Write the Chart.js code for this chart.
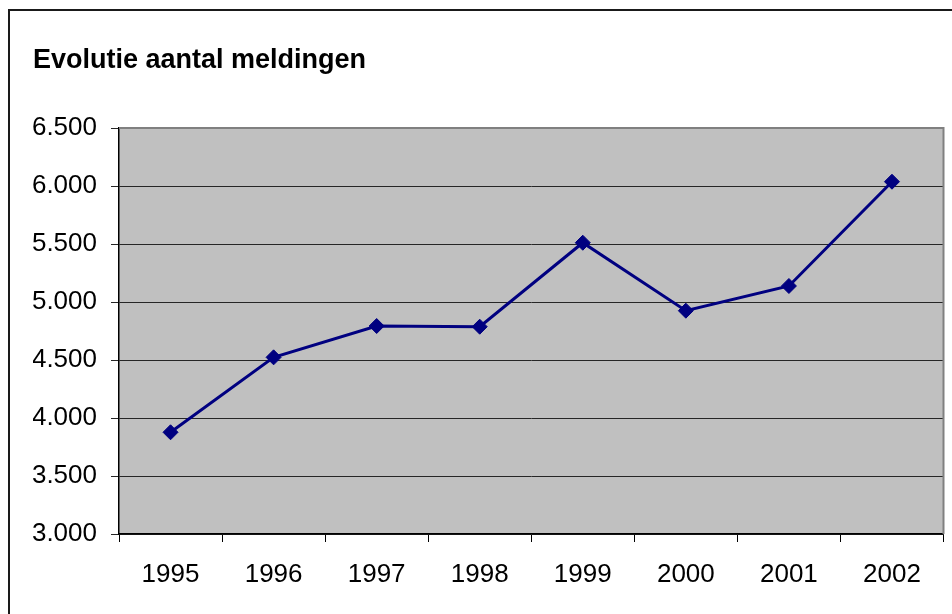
<!DOCTYPE html>
<html>
<head>
<meta charset="utf-8">
<script src="https://cdn.jsdelivr.net/npm/chart.js@4.4.1/dist/chart.umd.min.js"></script>
<style>
  body { margin: 0; background: #fff; }
  #wrap { width: 952px; height: 614px; }
</style>
</head>
<body>
<div id="wrap"><canvas id="myChart" width="952" height="614"></canvas></div>
<script>
'use strict';

const years = ['1995', '1996', '1997', '1998', '1999', '2000', '2001', '2002'];
const meldingen = [3877, 4523, 4793, 4787, 5511, 4925, 5138, 6037];
const yMin = 3000;
const yMax = 6500;
const yStep = 500;

// 6500 -> "6.500"
function dotThousands(v) {
  return String(v).replace(/\B(?=(\d{3})+(?!\d))/g, '.');
}

// grey plot area, its grey top/right edge, and the frame round the chart
const frame = {
  id: 'frame',
  beforeDatasetsDraw(chart) {
    let a = chart.chartArea;
    let ctx = chart.ctx;
    ctx.save();
    ctx.strokeStyle = '#808080';
    ctx.lineWidth = 2;
    ctx.beginPath();
    ctx.moveTo(a.left, a.top);
    ctx.lineTo(a.right, a.top);
    ctx.lineTo(a.right, a.bottom);
    ctx.stroke();
    ctx.restore();
  },
  beforeDraw(chart) {
    let a = chart.chartArea;
    let ctx = chart.ctx;
    ctx.save();
    ctx.fillStyle = '#c0c0c0';
    ctx.fillRect(a.left, a.top, a.right - a.left, a.bottom - a.top);
    ctx.strokeStyle = '#1a1a1a';
    ctx.lineWidth = 2;
    ctx.beginPath();
    ctx.moveTo(9, 614);
    ctx.lineTo(9, 10);
    ctx.lineTo(952, 10);
    ctx.stroke();
    ctx.restore();
  }
};

let canvasElem = document.getElementById('myChart').getContext('2d');

new Chart(canvasElem, {
  type: 'line',
  data: {
    labels: years,
    datasets: [{
      label: 'meldingen',
      data: meldingen,
      borderColor: '#000080',
      backgroundColor: '#000080',
      borderWidth: 3,
      pointStyle: 'rectRot',
      pointRadius: 7.5,
      pointBorderWidth: 1,
      tension: 0
    }]
  },
  options: {
    responsive: false,
    animation: false,
    layout: { padding: { left: 33, right: 7, top: 0, bottom: 0 } },
    plugins: {
      legend: { display: false },
      tooltip: { enabled: false },
      title: {
        display: true,
        text: 'Evolutie aantal meldingen',
        align: 'start',
        color: '#000',
        font: { family: 'Liberation Sans, Arial, sans-serif', size: 27, weight: 'bold' },
        padding: { top: 44, bottom: 51.6 }
      }
    },
    scales: {
      x: {
        offset: true,
        grid: {
          offset: true,
          drawOnChartArea: false,
          drawTicks: true,
          tickLength: 8,
          color: '#000'
        },
        border: { color: '#000', width: 1.5 },
        ticks: {
          color: '#000',
          padding: 17,
          maxRotation: 0,
          font: { family: 'Liberation Sans, Arial, sans-serif', size: 26 }
        },
        afterFit(scale) { scale.height = 80; }
      },
      y: {
        min: yMin,
        max: yMax,
        grid: { color: '#262626', lineWidth: 1, tickLength: 8 },
        border: { color: '#000', width: 1.5 },
        ticks: {
          stepSize: yStep,
          color: '#000',
          padding: 14,
          font: { family: 'Liberation Sans, Arial, sans-serif', size: 26 },
          callback: v => dotThousands(v)
        },
        afterFit(scale) { scale.width = 86; }
      }
    }
  },
  plugins: [frame]
});
</script>
</body>
</html>
